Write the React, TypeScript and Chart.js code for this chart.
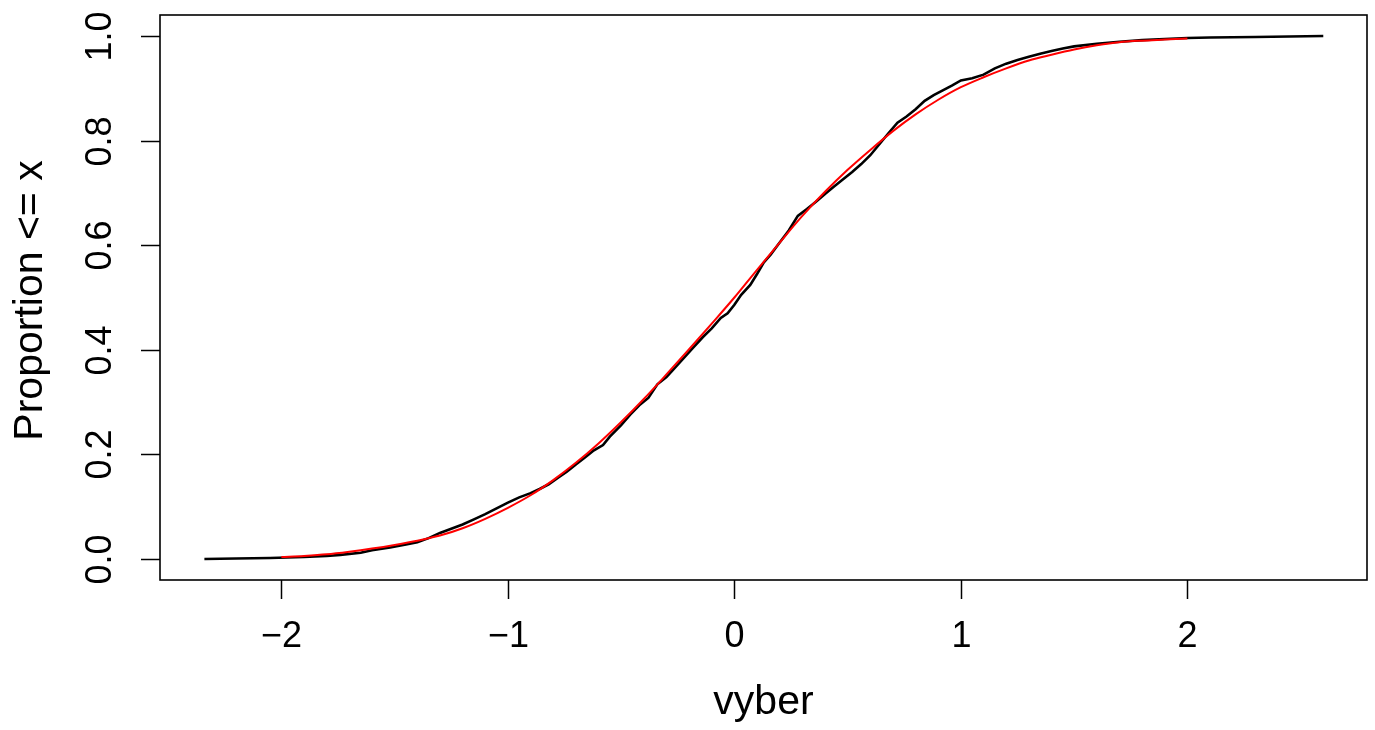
import React, { useEffect, useRef } from "react";
import { Chart, registerables } from "chart.js";

Chart.register(...registerables);

const ecdfX = [
  -2.34, -2.2, -2.05, -1.9, -1.8, -1.74, -1.65, -1.6, -1.52, -1.45, -1.4, -1.35, -1.3, -1.25, -1.2,
  -1.15, -1.1, -1.05, -1.0, -0.95, -0.9, -0.86, -0.82, -0.78, -0.74, -0.7, -0.66, -0.62, -0.58,
  -0.55, -0.5, -0.46, -0.42, -0.38, -0.34, -0.3, -0.26, -0.22, -0.18, -0.14, -0.1, -0.06, -0.03,
  0.0, 0.03, 0.07, 0.1, 0.13, 0.16, 0.2, 0.24, 0.28, 0.32, 0.36, 0.4, 0.44, 0.48, 0.52, 0.56, 0.6,
  0.64, 0.68, 0.72, 0.76, 0.8, 0.84, 0.88, 0.92, 0.96, 1.0, 1.05, 1.1, 1.15, 1.2, 1.25, 1.3, 1.35,
  1.4, 1.45, 1.5, 1.6, 1.7, 1.8, 1.9, 2.0, 2.1, 2.3, 2.45, 2.6,
];
const ecdfY = [
  0.0, 0.001, 0.002, 0.004, 0.006, 0.008, 0.012, 0.017, 0.022, 0.028, 0.032, 0.04, 0.05, 0.058, 0.066,
  0.076, 0.086, 0.097, 0.108, 0.118, 0.126, 0.134, 0.143, 0.155, 0.167, 0.181, 0.194, 0.208, 0.218,
  0.234, 0.256, 0.276, 0.294, 0.308, 0.334, 0.348, 0.367, 0.386, 0.405, 0.424, 0.441, 0.461, 0.47,
  0.486, 0.505, 0.524, 0.545, 0.567, 0.582, 0.605, 0.628, 0.656, 0.669, 0.683, 0.698, 0.712, 0.726,
  0.74, 0.755, 0.772, 0.793, 0.814, 0.834, 0.846, 0.86, 0.876, 0.887, 0.896, 0.905, 0.915, 0.919,
  0.926, 0.938, 0.947, 0.954, 0.96, 0.966, 0.971, 0.976, 0.98, 0.985, 0.989, 0.992, 0.994, 0.996,
  0.997, 0.998, 0.999, 1.0,
];

// Theoretical (red) CDF curve
const cdfX = [
  -2.0, -1.9, -1.8, -1.7, -1.6, -1.5, -1.4, -1.3, -1.2, -1.1, -1.0, -0.9, -0.8, -0.7, -0.6, -0.5,
  -0.4, -0.3, -0.2, -0.1, 0.0, 0.1, 0.2, 0.3, 0.4, 0.5, 0.6, 0.7, 0.8, 0.9, 1.0, 1.1, 1.2, 1.3, 1.4,
  1.5, 1.6, 1.7, 1.8, 1.9, 2.0,
];
const cdfY = [
  0.004, 0.006, 0.009, 0.014, 0.02, 0.027, 0.035, 0.045, 0.059, 0.077, 0.098, 0.122, 0.151, 0.184,
  0.221, 0.262, 0.306, 0.353, 0.401, 0.45, 0.5, 0.553, 0.605, 0.656, 0.702, 0.744, 0.782, 0.818,
  0.85, 0.878, 0.902, 0.921, 0.938, 0.953, 0.964, 0.974, 0.982, 0.988, 0.991, 0.993, 0.995,
];

const xTicks = [-2, -1, 0, 1, 2];
const xTickLabels = ["\u22122", "\u22121", "0", "1", "2"];
const yTicks = [0, 0.2, 0.4, 0.6, 0.8, 1.0];
const yTickLabels = ["0.0", "0.2", "0.4", "0.6", "0.8", "1.0"];
const xTitle = "vyber";
const yTitle = "Proportion <= x";

const FONT = '"Liberation Sans", Arial, Helvetica, sans-serif';

const axesPlugin = {
  id: "rAxes",
  afterDraw(chart: any) {
    const { ctx, chartArea, scales } = chart;
    const xs = scales.x;
    const ys = scales.y;
    ctx.save();
    ctx.strokeStyle = "#000";
    ctx.fillStyle = "#000";
    ctx.lineWidth = 1.6;
    ctx.strokeRect(chartArea.left, chartArea.top, chartArea.right - chartArea.left, chartArea.bottom - chartArea.top);
    ctx.lineWidth = 1.5;
    ctx.font = `36px ${FONT}`;
    ctx.textAlign = "center";
    ctx.textBaseline = "middle";
    xTicks.forEach((v, i) => {
      const px = Math.round(xs.getPixelForValue(v)) + 0.5;
      ctx.beginPath();
      ctx.moveTo(px, chartArea.bottom);
      ctx.lineTo(px, chartArea.bottom + 19);
      ctx.stroke();
      ctx.fillText(xTickLabels[i], px, 637);
    });
    yTicks.forEach((v, i) => {
      const py = Math.round(ys.getPixelForValue(v)) + 0.5;
      ctx.beginPath();
      ctx.moveTo(chartArea.left, py);
      ctx.lineTo(chartArea.left - 19, py);
      ctx.stroke();
      ctx.save();
      ctx.translate(101, py);
      ctx.rotate(-Math.PI / 2);
      ctx.fillText(yTickLabels[i], 0, 0);
      ctx.restore();
    });
    ctx.font = `41px ${FONT}`;
    ctx.fillText(xTitle, (chartArea.left + chartArea.right) / 2, 703);
    ctx.save();
    ctx.translate(31, (chartArea.top + chartArea.bottom) / 2 + 3);
    ctx.rotate(-Math.PI / 2);
    ctx.fillText(yTitle, 0, 0);
    ctx.restore();
    ctx.restore();
  },
};

export default function App() {
  const ref = useRef<HTMLCanvasElement | null>(null);
  useEffect(() => {
    if (!ref.current) return;
    const chart = new Chart(ref.current, {
      type: "line",
      data: {
        datasets: [
          {
            label: "ecdf",
            data: ecdfX.map((x, i) => ({ x, y: ecdfY[i] })),
            borderColor: "#000000",
            borderWidth: 2.6,
            pointRadius: 0,
            tension: 0,
            fill: false,
            order: 1,
          },
          {
            label: "cdf",
            data: cdfX.map((x, i) => ({ x, y: cdfY[i] })),
            borderColor: "#ff0000",
            borderWidth: 2,
            pointRadius: 0,
            cubicInterpolationMode: "monotone",
            fill: false,
            order: 0,
          },
        ],
      },
      options: {
        animation: false,
        responsive: false,
        devicePixelRatio: 1,
        layout: { padding: { left: 160, top: 15, right: 8, bottom: 150 } },
        plugins: { legend: { display: false }, tooltip: { enabled: false }, title: { display: false } },
        scales: {
          x: { type: "linear", min: -2.536, max: 2.793, display: false },
          y: { type: "linear", min: -0.04, max: 1.04, display: false },
        },
      },
      plugins: [axesPlugin],
    });
    return () => chart.destroy();
  }, []);
  return (
    <div style={{ position: "absolute", left: 0, top: 0, width: 1375, height: 730, background: "#fff" }}>
      <canvas ref={ref} width={1375} height={730} style={{ display: "block" }} />
    </div>
  );
}
